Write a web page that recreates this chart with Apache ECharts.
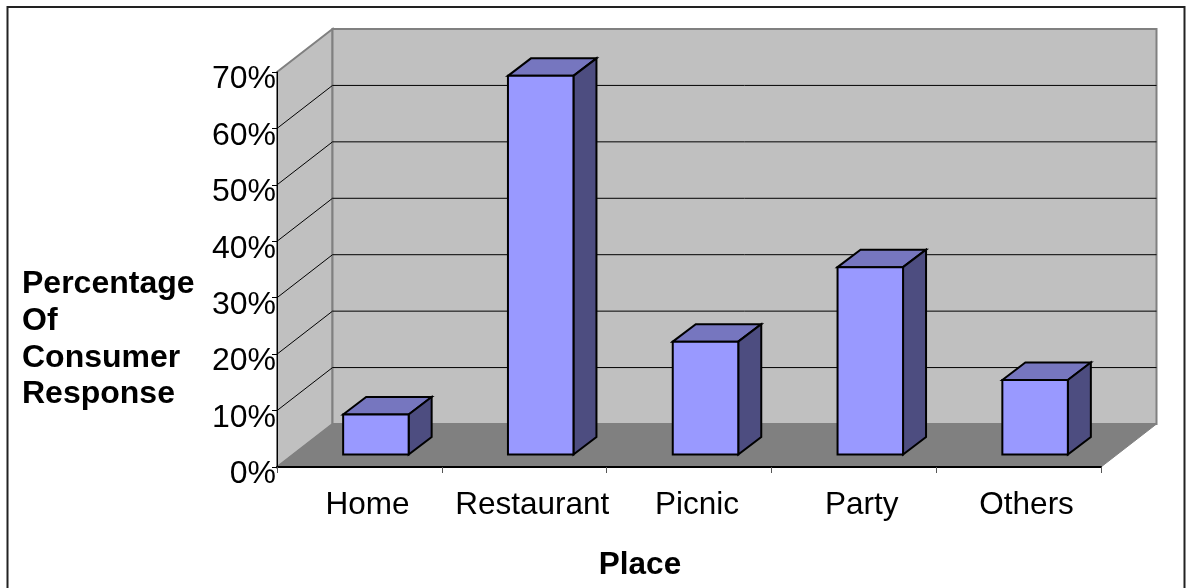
<!DOCTYPE html>
<html><head><meta charset="utf-8">
<style>html,body{margin:0;padding:0;background:#fff}#c{width:1190px;height:588px}</style>
<script src="https://cdn.jsdelivr.net/npm/echarts@6/dist/echarts.min.js"></script>
</head><body><div id="c"></div>
<script>
const categories = ['Home','Restaurant','Picnic','Party','Others'];
const values = [7.1,67.1,20.0,33.2,13.2];
const ticks = [0,10,20,30,40,50,60,70];
const yTitle = 'Percentage\nOf\nConsumer\nResponse';
const xTitle = 'Place';

const FONT = '"Liberation Sans", Arial, sans-serif';
const WALL = [55.5,-43], BASE = [16.5,-12.5], DEPTH = [23,-17.5], BARW = 65.5;
const poly = (points, fill, stroke, lw) => ({type:'polygon', shape:{points},
  style:{fill, stroke, lineWidth:lw}});

function renderWalls(params, api){
  const v = api.value(0);
  const [x0,y] = api.coord([0,v]);
  const cs = params.coordSys;
  const x1 = cs.x + cs.width;
  const ch = [];
  if (v === 0) {
    const yTop = api.coord([0,ticks[ticks.length-1]])[1];
    const d = WALL;
    const gx0 = cs.x;
    ch.push(poly([[gx0,yTop],[gx0+d[0],yTop+d[1]],[gx0+d[0],y+d[1]],[gx0,y]],'#C0C0C0','#808080',2));
    ch.push(poly([[gx0+d[0],yTop+d[1]],[x1+d[0],yTop+d[1]],[x1+d[0],y+d[1]],[gx0+d[0],y+d[1]]],'#C0C0C0','#808080',2));
    ch.push(poly([[gx0,y],[gx0+d[0],y+d[1]],[x1+d[0],y+d[1]],[x1,y]],'#808080','#808080',1));
  } else if (v < ticks[ticks.length-1]) {
    const gx0 = cs.x;
    ch.push({type:'polyline', shape:{points:[[gx0,y],[gx0+WALL[0],y+WALL[1]],[x1+WALL[0],y+WALL[1]]]},
      style:{fill:'none',stroke:'#000',lineWidth:1}});
  }
  return {type:'group', children:ch};
}
function renderBar(params, api){
  const c = api.coord([api.value(0),0]);
  const t = api.coord([api.value(0),api.value(1)]);
  const l = c[0]+BASE[0]-BARW/2, r = l+BARW;
  const b = c[1]+BASE[1], top = t[1]+BASE[1];
  const dx = DEPTH[0], dy = DEPTH[1];
  const K='#000';
  return {type:'group', children:[
    poly([[l,top],[l+dx,top+dy],[r+dx,top+dy],[r,top]],'#7676BF',K,2),
    poly([[r,top],[r+dx,top+dy],[r+dx,b+dy],[r,b]],'#4D4D80',K,2),
    poly([[l,top],[r,top],[r,b],[l,b]],'#9999FF',K,2)
  ]};
}
const chart = echarts.init(document.getElementById('c'),null,{renderer:'canvas'});
chart.setOption({
  animation:false,
  backgroundColor:'#fff',
  title:[
    {text:yTitle,left:17,top:261,textStyle:{fontFamily:FONT,fontSize:32,fontWeight:'bold',color:'#000',lineHeight:36.7}},
    {text:xTitle,left:635,top:544,textAlign:'center',textStyle:{fontFamily:FONT,fontSize:31.5,fontWeight:'bold',color:'#000'}}
  ],
  graphic:[{type:'rect',shape:{x:7.5,y:7,width:1177,height:600},style:{fill:'none',stroke:'#222',lineWidth:2},z:-10}],
  grid:{left:277,right:89,top:72,bottom:121},
  xAxis:{type:'category',data:categories,boundaryGap:true,
    axisLine:{show:true,lineStyle:{color:'#000',width:2}},
    axisTick:{show:true,alignWithLabel:false,length:6,lineStyle:{color:'#555',width:1}},
    axisLabel:{color:'#000',fontFamily:FONT,fontSize:31.5,margin:22,padding:[0,0,0,16],interval:0},
    splitLine:{show:false},z:5},
  yAxis:{type:'value',min:0,max:70,interval:10,
    axisLine:{show:true,lineStyle:{color:'#000',width:1}},
    axisTick:{show:true,length:5,lineStyle:{color:'#000',width:1}},
    axisLabel:{color:'#000',fontFamily:FONT,fontSize:32,margin:1,formatter:'{value}%',verticalAlign:'top',lineHeight:15},
    splitLine:{show:false},z:5},
  series:[
    {type:'custom',name:'walls',coordinateSystem:'cartesian2d',data:ticks.map(t=>[t]),
     encode:{y:0},renderItem:renderWalls,silent:true,z:1,clip:false},
    {type:'custom',name:'Consumer response',coordinateSystem:'cartesian2d',
     data:values.map((v,i)=>[i,v]),encode:{x:0,y:1},renderItem:renderBar,z:3,clip:false}
  ]
});
</script></body></html>
